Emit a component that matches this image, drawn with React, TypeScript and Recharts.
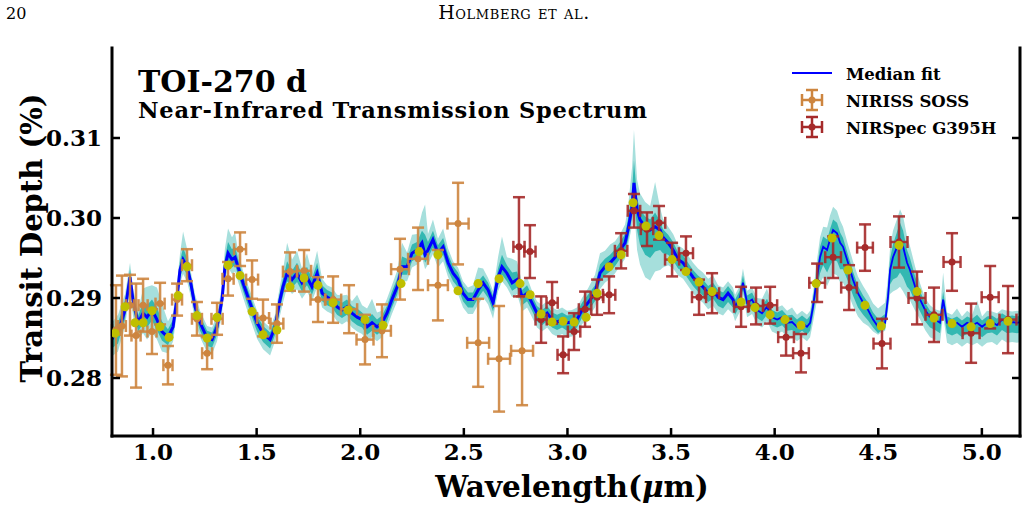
import { Area, ComposedChart, ErrorBar, Line, Scatter, XAxis, YAxis } from 'recharts'

const BLUE = '#0000ff'
const TEAL = '#20b2aa'
const TEAL_LIGHT = '#a6dfdc'
const ORANGE = '#cd853f'
const RED = '#a52a2a'
const YELLOW = '#bfbf00'
const FONT = "'DejaVu Serif', serif"

const PPM = 1e-4 // percent per ppm
const SPLIT = 3.81 // NIRISS / NIRSpec model resolution boundary (µm)

// retrieval model grid: wavelength (µm) and median transit depth (%)
const MODEL_WAVE = [
  0.800, 0.807, 0.831, 0.865, 0.889, 0.903, 0.928, 0.952, 0.971, 0.995,
  1.019, 1.043, 1.072, 1.097, 1.116, 1.130, 1.145, 1.164, 1.179, 1.203,
  1.227, 1.261, 1.285, 1.309, 1.333, 1.347, 1.362, 1.381, 1.396, 1.410,
  1.434, 1.468, 1.502, 1.531, 1.565, 1.589, 1.613, 1.627, 1.647, 1.671,
  1.695, 1.719, 1.743, 1.767, 1.792, 1.816, 1.840, 1.864, 1.888, 1.912,
  1.936, 1.960, 1.985, 2.009, 2.033, 2.057, 2.081, 2.105, 2.129, 2.153,
  2.178, 2.202, 2.226, 2.250, 2.274, 2.298, 2.313, 2.327, 2.351, 2.375,
  2.400, 2.424, 2.448, 2.472, 2.496, 2.520, 2.544, 2.569, 2.593, 2.617,
  2.641, 2.665, 2.684, 2.708, 2.733, 2.757, 2.781, 2.805, 2.829, 2.853,
  2.877, 2.902, 2.926, 2.950, 2.974, 2.998, 3.022, 3.046, 3.070, 3.099,
  3.133, 3.157, 3.181, 3.206, 3.230, 3.254, 3.278, 3.292, 3.312, 3.321,
  3.336, 3.350, 3.375, 3.399, 3.423, 3.447, 3.461, 3.486, 3.510, 3.534,
  3.558, 3.582, 3.606, 3.630, 3.654, 3.679, 3.703, 3.727, 3.751, 3.775,
  3.799, 3.809, 3.833, 3.847, 3.867, 3.891, 3.915, 3.939, 3.963, 3.987,
  4.012, 4.036, 4.060, 4.084, 4.108, 4.132, 4.156, 4.171, 4.185, 4.205,
  4.219, 4.234, 4.253, 4.267, 4.282, 4.301, 4.316, 4.330, 4.354, 4.378,
  4.402, 4.427, 4.451, 4.475, 4.499, 4.509, 4.533, 4.547, 4.557, 4.571,
  4.591, 4.605, 4.620, 4.639, 4.653, 4.678, 4.702, 4.726, 4.750, 4.774,
  4.798, 4.813, 4.832, 4.856, 4.880, 4.904, 4.929, 4.953, 4.977, 5.001,
  5.025, 5.049, 5.073, 5.097, 5.122, 5.146, 5.170, 5.185
]
const MODEL_MEDIAN = [
  0.2848, 0.2851, 0.2856, 0.2885, 0.2926, 0.2898, 0.2869, 0.2881, 0.2876, 0.2885,
  0.2873, 0.2858, 0.2851, 0.2864, 0.2901, 0.2935, 0.2948, 0.2939, 0.2923, 0.2889,
  0.2869, 0.2850, 0.2848, 0.2864, 0.2898, 0.2939, 0.2956, 0.2948, 0.2951, 0.2939,
  0.2919, 0.2894, 0.2869, 0.2856, 0.2848, 0.2864, 0.2898, 0.2914, 0.2931, 0.2923,
  0.2931, 0.2919, 0.2926, 0.2914, 0.2931, 0.2906, 0.2901, 0.2898, 0.2889, 0.2885,
  0.2889, 0.2881, 0.2876, 0.2873, 0.2864, 0.2869, 0.2864, 0.2869, 0.2881, 0.2898,
  0.2914, 0.2939, 0.2939, 0.2956, 0.2960, 0.2969, 0.2954, 0.2960, 0.2973, 0.2956,
  0.2964, 0.2944, 0.2931, 0.2923, 0.2906, 0.2898, 0.2898, 0.2910, 0.2919, 0.2910,
  0.2894, 0.2926, 0.2939, 0.2931, 0.2919, 0.2923, 0.2901, 0.2906, 0.2894, 0.2881,
  0.2876, 0.2881, 0.2873, 0.2870, 0.2873, 0.2869, 0.2870, 0.2873, 0.2885, 0.2894,
  0.2906, 0.2931, 0.2939, 0.2944, 0.2951, 0.2960, 0.2969, 0.2985, 0.3014, 0.3044,
  0.3010, 0.2998, 0.2989, 0.2985, 0.2989, 0.2985, 0.2976, 0.2969, 0.2960, 0.2948,
  0.2944, 0.2935, 0.2926, 0.2919, 0.2914, 0.2906, 0.2910, 0.2901, 0.2898, 0.2906,
  0.2898, 0.2889, 0.2901, 0.2919, 0.2894, 0.2898, 0.2885, 0.2881, 0.2889, 0.2876,
  0.2873, 0.2876, 0.2869, 0.2870, 0.2864, 0.2869, 0.2864, 0.2869, 0.2889, 0.2926,
  0.2951, 0.2964, 0.2960, 0.2973, 0.2985, 0.2981, 0.2969, 0.2964, 0.2944, 0.2923,
  0.2906, 0.2894, 0.2885, 0.2873, 0.2864, 0.2864, 0.2869, 0.2901, 0.2935, 0.2951,
  0.2964, 0.2973, 0.2964, 0.2944, 0.2935, 0.2914, 0.2898, 0.2885, 0.2876, 0.2873,
  0.2869, 0.2898, 0.2869, 0.2866, 0.2869, 0.2864, 0.2869, 0.2866, 0.2869, 0.2864,
  0.2869, 0.2870, 0.2866, 0.2873, 0.2869, 0.2870, 0.2869, 0.2870
]

// credible-interval offsets from the median (ppm): 2 sigma and 1 sigma, up / down
const SIG2_UP = [
  20, 20, 23, 20, 18, 15, 15, 31, 38, 31,
  40, 35, 20, 18, 18, 20, 35, 23, 15, 15,
  15, 15, 15, 15, 18, 23, 31, 28, 31, 20,
  15, 15, 15, 15, 15, 15, 18, 20, 38, 25,
  28, 18, 30, 18, 28, 18, 15, 15, 15, 18,
  15, 15, 28, 18, 23, 30, 18, 15, 18, 18,
  20, 30, 18, 23, 20, 38, 63, 20, 25, 18,
  23, 18, 15, 15, 15, 15, 18, 28, 18, 15,
  15, 25, 38, 20, 30, 23, 18, 20, 15, 15,
  15, 15, 15, 15, 15, 15, 15, 15, 15, 18,
  23, 25, 20, 23, 20, 20, 23, 28, 50, 66,
  38, 33, 31, 30, 56, 28, 23, 20, 20, 18,
  18, 18, 18, 18, 18, 18, 18, 15, 15, 15,
  15, 15, 15, 18, 15, 15, 15, 18, 23, 15,
  15, 15, 15, 18, 15, 15, 15, 15, 18, 23,
  25, 25, 28, 30, 29, 28, 28, 25, 23, 23,
  21, 21, 20, 20, 23, 25, 25, 25, 28, 33,
  35, 38, 38, 33, 30, 25, 20, 15, 15, 13,
  15, 34, 13, 13, 18, 13, 15, 13, 28, 13,
  15, 13, 15, 13, 15, 13, 15, 13
]
const SIG2_DN = [
  23, 23, 23, 20, 18, 20, 20, 25, 28, 28,
  25, 25, 20, 18, 18, 18, 18, 18, 18, 18,
  18, 18, 18, 18, 18, 18, 18, 18, 18, 18,
  18, 20, 20, 20, 20, 18, 20, 20, 18, 18,
  20, 20, 18, 18, 18, 18, 18, 18, 18, 18,
  18, 18, 18, 18, 18, 18, 18, 18, 18, 18,
  18, 18, 18, 18, 18, 18, 18, 18, 18, 18,
  18, 18, 18, 18, 18, 18, 18, 18, 18, 18,
  20, 18, 18, 18, 18, 18, 18, 18, 18, 18,
  18, 18, 18, 18, 18, 18, 18, 18, 18, 18,
  18, 20, 20, 20, 20, 20, 20, 20, 23, 28,
  50, 56, 63, 63, 56, 50, 38, 28, 23, 20,
  20, 20, 20, 20, 20, 20, 20, 20, 20, 20,
  18, 18, 18, 15, 18, 18, 18, 18, 18, 18,
  18, 18, 18, 18, 18, 18, 18, 18, 20, 28,
  33, 38, 45, 50, 54, 53, 50, 45, 38, 33,
  29, 25, 20, 15, 10, 8, 10, 18, 30, 43,
  53, 59, 56, 45, 38, 30, 25, 25, 25, 25,
  25, 20, 25, 25, 25, 25, 25, 25, 25, 25,
  25, 25, 25, 25, 25, 25, 25, 25
]
const SIG1_UP = [
  11, 11, 13, 11, 10, 9, 9, 13, 15, 13,
  15, 13, 10, 9, 10, 11, 15, 11, 9, 9,
  9, 9, 9, 9, 10, 11, 14, 13, 14, 10,
  9, 9, 9, 9, 9, 9, 10, 10, 15, 11,
  13, 10, 13, 10, 13, 10, 9, 9, 9, 9,
  9, 9, 11, 9, 10, 11, 9, 9, 9, 10,
  10, 13, 10, 11, 10, 15, 25, 10, 11, 10,
  11, 10, 9, 9, 9, 9, 9, 11, 9, 9,
  9, 11, 15, 10, 13, 10, 9, 10, 9, 9,
  9, 9, 9, 9, 9, 9, 9, 9, 9, 10,
  10, 11, 10, 10, 10, 10, 11, 13, 20, 28,
  15, 13, 13, 13, 18, 11, 10, 10, 10, 9,
  9, 9, 9, 9, 9, 9, 9, 9, 9, 9,
  9, 9, 9, 9, 9, 9, 9, 9, 10, 9,
  9, 9, 9, 9, 9, 9, 9, 9, 10, 11,
  13, 13, 13, 13, 13, 13, 13, 11, 10, 10,
  9, 9, 9, 9, 10, 11, 11, 13, 14, 16,
  19, 21, 20, 16, 15, 13, 10, 9, 8, 8,
  8, 10, 8, 8, 8, 8, 8, 8, 10, 8,
  8, 8, 8, 8, 8, 8, 8, 8
]
const SIG1_DN = [
  13, 13, 13, 11, 10, 11, 11, 13, 13, 13,
  13, 11, 10, 9, 10, 10, 10, 10, 10, 10,
  10, 10, 10, 10, 10, 10, 10, 10, 10, 10,
  10, 11, 11, 11, 11, 10, 11, 11, 10, 10,
  11, 11, 10, 10, 10, 10, 10, 10, 10, 10,
  10, 10, 10, 10, 10, 10, 10, 10, 10, 10,
  10, 10, 10, 10, 10, 10, 10, 10, 10, 10,
  10, 10, 10, 10, 10, 10, 10, 10, 10, 10,
  11, 10, 10, 10, 10, 10, 10, 10, 10, 10,
  10, 10, 10, 10, 10, 10, 10, 10, 10, 10,
  10, 11, 11, 11, 11, 11, 11, 13, 13, 15,
  25, 31, 35, 35, 31, 25, 20, 15, 13, 11,
  11, 11, 11, 11, 11, 11, 11, 11, 11, 11,
  10, 10, 10, 9, 10, 10, 10, 10, 10, 10,
  10, 10, 10, 10, 10, 10, 10, 10, 11, 15,
  20, 23, 28, 33, 38, 35, 33, 28, 23, 20,
  18, 15, 13, 10, 8, 6, 8, 11, 18, 28,
  38, 41, 38, 30, 25, 19, 15, 14, 13, 13,
  13, 13, 13, 13, 13, 13, 13, 13, 13, 13,
  13, 13, 13, 13, 13, 13, 13, 13
]

// model binned to the data resolution
const BIN_WAVE = [
  0.817, 0.865, 0.913, 0.952, 0.995, 1.034, 1.077, 1.121, 1.164, 1.212,
  1.261, 1.309, 1.362, 1.420, 1.478, 1.531, 1.598, 1.661, 1.729, 1.796,
  1.869, 1.941, 2.023, 2.110, 2.197, 2.284, 2.375, 2.472, 2.569, 2.670,
  2.771, 2.820, 2.873, 2.926, 2.979, 3.032, 3.090, 3.143, 3.201, 3.259,
  3.317, 3.379, 3.442, 3.505, 3.572, 3.635, 3.698, 3.838, 3.905, 3.978,
  4.050, 4.127, 4.200, 4.277, 4.354, 4.436, 4.514, 4.600, 4.687, 4.769,
  4.856, 4.948, 5.040, 5.126
]
const BIN_DEPTH = [
  0.2856, 0.2889, 0.2869, 0.2869, 0.2884, 0.2864, 0.2851, 0.2903, 0.2939, 0.2878,
  0.2850, 0.2876, 0.2941, 0.2928, 0.2883, 0.2854, 0.2860, 0.2914, 0.2925, 0.2916,
  0.2894, 0.2885, 0.2873, 0.2866, 0.2918, 0.2958, 0.2954, 0.2909, 0.2918, 0.2924,
  0.2918, 0.2904, 0.2880, 0.2870, 0.2871, 0.2870, 0.2876, 0.2906, 0.2939, 0.2954,
  0.3019, 0.2990, 0.2978, 0.2948, 0.2933, 0.2920, 0.2908, 0.2895, 0.2888, 0.2879,
  0.2873, 0.2866, 0.2918, 0.2975, 0.2935, 0.2891, 0.2865, 0.2966, 0.2908, 0.2875,
  0.2868, 0.2864, 0.2868, 0.2871
]

// NIRISS SOSS spectrum
const SOSS_WAVE = [
  0.821, 0.850, 0.889, 0.918, 0.952, 0.995, 1.034, 1.072, 1.116, 1.164,
  1.212, 1.261, 1.309, 1.362, 1.420, 1.478, 1.531, 1.598, 1.661, 1.729,
  1.796, 1.869, 1.946, 2.023, 2.105, 2.192, 2.279, 2.375, 2.472, 2.569,
  2.670, 2.781
]
const SOSS_DEPTH = [
  0.2860, 0.2865, 0.2891, 0.2853, 0.2891, 0.2858, 0.2893, 0.2816, 0.2898, 0.2941,
  0.2874, 0.2831, 0.2874, 0.2924, 0.2961, 0.2923, 0.2875, 0.2868, 0.2933, 0.2934,
  0.2898, 0.2898, 0.2886, 0.2848, 0.2859, 0.2936, 0.2949, 0.2916, 0.2993, 0.2844,
  0.2824, 0.2834
]
const SOSS_ERR = [
  56, 63, 38, 65, 33, 28, 26, 24, 20, 20,
  21, 20, 20, 21, 21, 24, 23, 24, 24, 26,
  28, 29, 30, 31, 33, 38, 39, 44, 51, 55,
  66, 68
]
const SOSS_HALFBIN = [
  0.019, 0.019, 0.019, 0.022, 0.022, 0.022, 0.022, 0.022, 0.024, 0.024,
  0.024, 0.024, 0.027, 0.027, 0.029, 0.029, 0.029, 0.031, 0.034, 0.034,
  0.036, 0.039, 0.039, 0.041, 0.043, 0.043, 0.048, 0.048, 0.051, 0.053,
  0.053, 0.053
]

// NIRSpec G395H spectrum
const G395_WAVE = [
  2.766, 2.819, 2.873, 2.926, 2.979, 3.032, 3.085, 3.143, 3.201, 3.259,
  3.321, 3.384, 3.442, 3.505, 3.572, 3.635, 3.698, 3.838, 3.910, 3.978,
  4.055, 4.127, 4.205, 4.282, 4.359, 4.436, 4.518, 4.600, 4.687, 4.769,
  4.856, 4.948, 5.040, 5.126
]
const G395_DEPTH = [
  0.2964, 0.2958, 0.2873, 0.2894, 0.2829, 0.2858, 0.2886, 0.2901, 0.2904, 0.2959,
  0.3009, 0.2986, 0.2994, 0.2948, 0.2956, 0.2901, 0.2906, 0.2889, 0.2890, 0.2891,
  0.2851, 0.2831, 0.2919, 0.2951, 0.2913, 0.2963, 0.2843, 0.2970, 0.2900, 0.2879,
  0.2945, 0.2856, 0.2901, 0.2873
]
const G395_ERR = [
  62, 33, 29, 26, 23, 23, 22, 22, 23, 22,
  21, 21, 21, 21, 21, 22, 25, 25, 23, 23,
  23, 24, 24, 26, 28, 29, 31, 32, 33, 34,
  36, 37, 39, 42
]
const G395_HALFBIN = [
  0.027, 0.027, 0.027, 0.027, 0.027, 0.030, 0.030, 0.030, 0.030, 0.030,
  0.030, 0.030, 0.030, 0.034, 0.034, 0.034, 0.034, 0.034, 0.034, 0.034,
  0.038, 0.038, 0.038, 0.038, 0.038, 0.038, 0.041, 0.041, 0.041, 0.041,
  0.041, 0.041, 0.041, 0.041
]

const X_TICKS = [1.0, 1.5, 2.0, 2.5, 3.0, 3.5, 4.0, 4.5, 5.0]
const Y_TICKS = [0.28, 0.29, 0.30, 0.31]
const X_DOMAIN = [0.802, 5.184]
const Y_DOMAIN = [0.27275, 0.32125]

const W = 1028
const H = 511
const TICK = 8

const modelRows = MODEL_WAVE.map((w, i) => {
  const m = MODEL_MEDIAN[i]
  return {
    w,
    fitA: w <= SPLIT ? m : null,
    fitB: w >= 3.79 ? m : null,
    band2: [m - SIG2_DN[i] * PPM, m + SIG2_UP[i] * PPM],
    band1: [m - SIG1_DN[i] * PPM, m + SIG1_UP[i] * PPM]
  }
})

const binRows = BIN_WAVE.map((w, i) => ({ w, d: BIN_DEPTH[i] }))

const sossRows = SOSS_WAVE.map((w, i) => ({
  w,
  d: SOSS_DEPTH[i],
  ey: SOSS_ERR[i] * PPM,
  ex: SOSS_HALFBIN[i]
}))

const g395Rows = G395_WAVE.map((w, i) => ({
  w,
  d: G395_DEPTH[i],
  ey: G395_ERR[i] * PPM,
  ex: G395_HALFBIN[i]
}))

const labelFont = {
  fontFamily: FONT,
  fontWeight: 700,
  fontSize: 23,
  fill: '#000'
}

const BottomTick = (props: any) => {
  const { x, y, payload } = props
  return (
    <g>
      <line x1={x} y1={y} x2={x} y2={y - TICK} stroke='#000' strokeWidth={2.5} />
      <text x={x} y={y + 24} textAnchor='middle' style={labelFont}>
        {Number(payload.value).toFixed(1)}
      </text>
    </g>
  )
}

const TopTick = (props: any) => {
  const { x, y } = props
  return <line x1={x} y1={y} x2={x} y2={y + TICK} stroke='#000' strokeWidth={2.5} />
}

const LeftTick = (props: any) => {
  const { x, y, payload } = props
  return (
    <g>
      <line x1={x} y1={y} x2={x + TICK} y2={y} stroke='#000' strokeWidth={2.5} />
      <text x={x - 10} y={y + 8} textAnchor='end' style={labelFont}>
        {Number(payload.value).toFixed(2)}
      </text>
    </g>
  )
}

const RightTick = (props: any) => {
  const { x, y } = props
  return <line x1={x} y1={y} x2={x - TICK} y2={y} stroke='#000' strokeWidth={2.5} />
}

const dot = (color: string, r: number) => (p: any) => (
  <circle cx={p.cx} cy={p.cy} r={r} fill={color} />
)

const axisLine = { stroke: '#000', strokeWidth: 3, strokeLinecap: 'square' as const }

function ErrGlyph ({ cx, cy, color }: { cx: number, cy: number, color: string }) {
  return (
    <g stroke={color} strokeWidth={2.5}>
      <line x1={cx} y1={cy - 10} x2={cx} y2={cy + 10} />
      <line x1={cx - 6} y1={cy - 10} x2={cx + 6} y2={cy - 10} />
      <line x1={cx - 6} y1={cy + 10} x2={cx + 6} y2={cy + 10} />
      <line x1={cx - 10} y1={cy} x2={cx + 10} y2={cy} />
      <line x1={cx - 10} y1={cy - 6} x2={cx - 10} y2={cy + 6} />
      <line x1={cx + 10} y1={cy - 6} x2={cx + 10} y2={cy + 6} />
      <circle cx={cx} cy={cy} r={3.5} fill={color} stroke='none' />
    </g>
  )
}

export default function App () {
  const bold = { fontFamily: FONT, fontWeight: 700, fill: '#000' }
  return (
    <div style={{ position: 'absolute', left: 0, top: 0, width: W, height: H, background: '#fff' }}>
      <ComposedChart
        width={W}
        height={H}
        data={modelRows}
        margin={{ top: 48, right: 0, bottom: 0, left: 0 }}
      >
        <XAxis
          dataKey='w'
          type='number'
          domain={X_DOMAIN}
          ticks={X_TICKS}
          allowDataOverflow
          height={75}
          tickSize={0}
          tickMargin={0}
          tickLine={false}
          axisLine={axisLine}
          tick={BottomTick}
        />
        <XAxis
          xAxisId='top'
          orientation='top'
          type='number'
          domain={X_DOMAIN}
          ticks={X_TICKS}
          allowDataOverflow
          height={0}
          tickSize={0}
          tickMargin={0}
          tickLine={false}
          axisLine={axisLine}
          tick={TopTick}
        />
        <YAxis
          type='number'
          domain={Y_DOMAIN}
          ticks={Y_TICKS}
          allowDataOverflow
          width={112}
          tickSize={0}
          tickMargin={0}
          tickLine={false}
          axisLine={axisLine}
          tick={LeftTick}
        />
        <YAxis
          yAxisId='right'
          orientation='right'
          type='number'
          domain={Y_DOMAIN}
          ticks={Y_TICKS}
          allowDataOverflow
          width={8}
          tickSize={0}
          tickMargin={0}
          tickLine={false}
          axisLine={axisLine}
          tick={RightTick}
        />
        <Area
          dataKey='band2'
          type='linear'
          stroke='none'
          fill={TEAL_LIGHT}
          fillOpacity={1}
          dot={false}
          activeDot={false}
          isAnimationActive={false}
        />
        <Area
          dataKey='band1'
          type='linear'
          stroke='none'
          fill={TEAL}
          fillOpacity={0.85}
          dot={false}
          activeDot={false}
          isAnimationActive={false}
        />
        <Line
          dataKey='fitA'
          type='linear'
          stroke={BLUE}
          strokeWidth={3}
          dot={false}
          activeDot={false}
          isAnimationActive={false}
        />
        <Line
          dataKey='fitB'
          type='linear'
          stroke={BLUE}
          strokeWidth={1.8}
          dot={false}
          activeDot={false}
          isAnimationActive={false}
        />
        <Scatter data={sossRows} dataKey='d' shape={dot(ORANGE, 3.5)} isAnimationActive={false}>
          <ErrorBar dataKey='ey' direction='y' width={6} stroke={ORANGE} strokeWidth={2.5} strokeOpacity={0.9} />
          <ErrorBar dataKey='ex' direction='x' width={6} stroke={ORANGE} strokeWidth={2.5} strokeOpacity={0.9} />
        </Scatter>
        <Scatter data={g395Rows} dataKey='d' shape={dot(RED, 3.5)} isAnimationActive={false}>
          <ErrorBar dataKey='ey' direction='y' width={6} stroke={RED} strokeWidth={2.5} strokeOpacity={0.9} />
          <ErrorBar dataKey='ex' direction='x' width={6} stroke={RED} strokeWidth={2.5} strokeOpacity={0.9} />
        </Scatter>
        <Scatter data={binRows} dataKey='d' shape={dot(YELLOW, 4.5)} isAnimationActive={false} />
      </ComposedChart>

      <svg
        width={W}
        height={H}
        style={{ position: 'absolute', left: 0, top: 0, pointerEvents: 'none' }}
      >
        <text x={6} y={19} style={{ fontFamily: FONT, fontSize: 16 }}>20</text>
        <text
          x={514}
          y={19}
          textAnchor='middle'
          style={{ fontFamily: FONT, fontSize: 19, fontVariant: 'small-caps', letterSpacing: 0.6 }}
        >
          Holmberg et al.
        </text>

        <text x={138} y={92} style={{ ...bold, fontSize: 30 }}>TOI-270 d</text>
        <text x={138} y={118} style={{ ...bold, fontSize: 22.5, letterSpacing: 0.8 }}>
          Near-Infrared Transmission Spectrum
        </text>

        <line x1={792} y1={73} x2={832} y2={73} stroke={BLUE} strokeWidth={2} />
        <ErrGlyph cx={812} cy={100} color={ORANGE} />
        <ErrGlyph cx={812} cy={127} color={RED} />
        <text x={846} y={80} style={{ ...bold, fontSize: 16.5 }}>Median fit</text>
        <text x={846} y={107} style={{ ...bold, fontSize: 16.5 }}>NIRISS SOSS</text>
        <text x={846} y={134} style={{ ...bold, fontSize: 16.5 }}>NIRSpec G395H</text>

        <text x={572} y={497} textAnchor='middle' style={{ ...bold, fontSize: 29.5 }}>
          Wavelength(<tspan fontStyle='italic'>μ</tspan>m)
        </text>
        <text
          x={0}
          y={0}
          textAnchor='middle'
          transform='translate(42 238) rotate(-90)'
          style={{ ...bold, fontSize: 29 }}
        >
          Transit Depth (%)
        </text>
      </svg>
    </div>
  )
}
